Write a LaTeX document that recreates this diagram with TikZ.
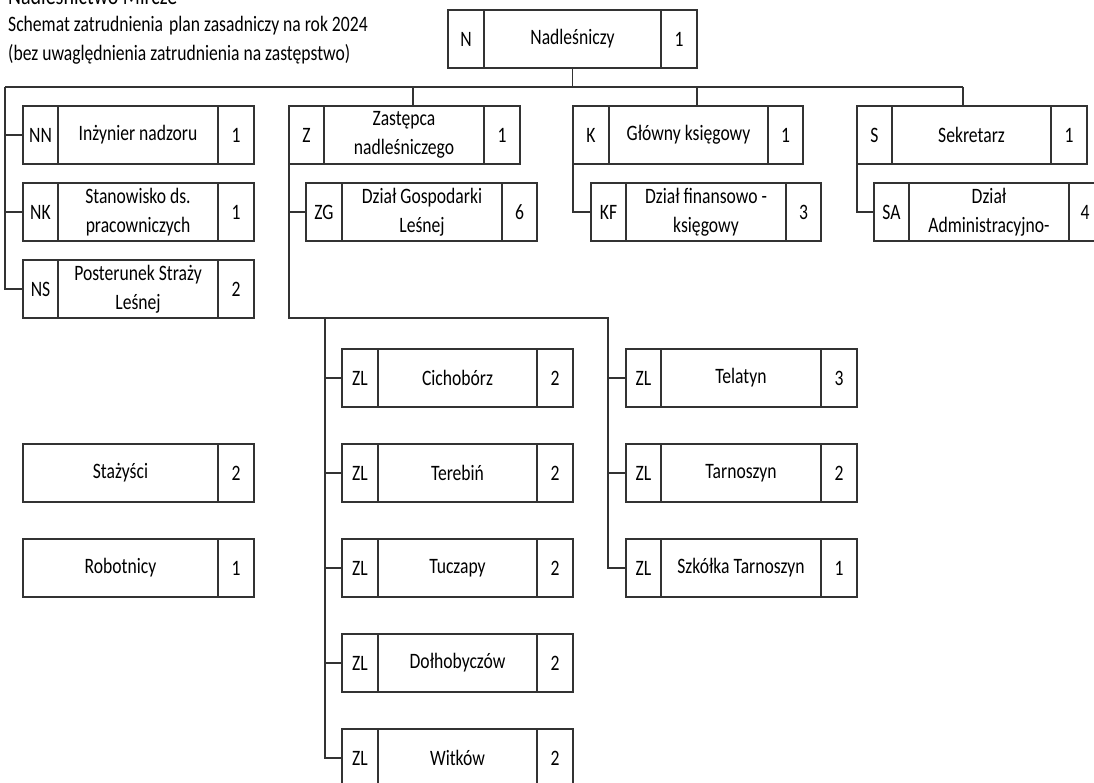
\documentclass[tikz,border=0pt]{standalone}
\usepackage{fontspec}
\setmainfont{Carlito}[FakeStretch=0.8]
\tikzset{
  cell/.style={draw=black!80, line width=1.2pt, inner sep=0pt, outer sep=0pt,
    minimum height=58pt, anchor=north west, align=center,
    font=\fontsize{22}{29}\selectfont, text=black},
  link/.style={draw=black!80, line width=1.2pt},
  title/.style={anchor=base west, inner sep=0pt, text=black},
}
\newcommand\orgbox[9]{%
  \node[cell, minimum width={(#4-#2)*1pt}] (#1c) at (#2,#3) {#7};
  \node[cell, minimum width={(#5-#4)*1pt}] (#1) at (#4,#3) {#8};
  \node[cell, minimum width={(#6-#5)*1pt}] (#1n) at (#5,#3) {#9};
}
\newcommand\twobox[6]{%
  \node[cell, minimum width={(#4-#2)*1pt}] (#1) at (#2,#3) {#5};
  \node[cell, minimum width={(218+36-#4)*1pt}] (#1n) at (#4,#3) {#6};
}
\begin{document}
\begin{tikzpicture}[x=1pt,y=-1pt]
\useasboundingbox (0,0) rectangle (1094,783);
\fill[white] (0,0) rectangle (1094,783);

% titles
\node[title, font=\fontsize{25}{30}\selectfont] (t1) at (8,5) {Nadleśnictwo Mircze};
\node[title, font=\fontsize{22}{29}\selectfont] (t2) at (8,32) {Schemat zatrudnienia};
\node[title, fill=white, font=\fontsize{22}{29}\selectfont] (t2b) at (169,32) {plan zasadniczy na rok 2024};
\node[title, font=\fontsize{22}{29}\selectfont] (t3) at (8,61) {(bez uwaględnienia zatrudnienia na zastępstwo)};

% top
\orgbox{N}{448}{10}{484}{661}{697}{N}{Nadleśniczy}{1}

% left column
\orgbox{NN}{23}{106}{58}{218}{254}{NN}{Inżynier nadzoru}{1}
\orgbox{NK}{23}{183}{58}{218}{254}{NK}{Stanowisko ds.\\pracowniczych}{1}
\orgbox{NS}{23}{260}{58}{218}{254}{NS}{Posterunek Straży\\Leśnej}{2}

% deputy
\orgbox{Z}{289}{106}{324}{484}{520}{Z}{Zastępca\\nadleśniczego}{1}
\orgbox{ZG}{306}{183}{342}{502}{537}{ZG}{Dział Gospodarki\\Leśnej}{6}

% accountant
\orgbox{K}{573}{106}{609}{768}{803}{K}{Główny księgowy}{1}
\orgbox{KF}{591}{183}{626}{786}{821}{KF}{Dział finansowo -\\księgowy}{3}

% secretary
\orgbox{S}{857}{106}{892}{1051}{1087}{S}{Sekretarz}{1}
\orgbox{SA}{874}{183}{909}{1069}{1101}{SA}{Dział\\Administracyjno-}{4}

% forest districts, left
\orgbox{CI}{342}{349}{378}{537}{573}{ZL}{Cichobórz}{2}
\orgbox{TB}{342}{444}{378}{537}{573}{ZL}{Terebiń}{2}
\orgbox{TU}{342}{539}{378}{537}{573}{ZL}{Tuczapy}{2}
\orgbox{DO}{342}{634}{378}{537}{573}{ZL}{Dołhobyczów}{2}
\orgbox{WI}{342}{729}{378}{537}{573}{ZL}{Witków}{2}

% forest districts, right
\orgbox{TE}{626}{349}{661}{821}{857}{ZL}{Telatyn}{3}
\orgbox{TR}{626}{444}{661}{821}{857}{ZL}{Tarnoszyn}{2}
\orgbox{SZ}{626}{539}{661}{821}{857}{ZL}{Szkółka Tarnoszyn}{1}

% others
\twobox{ST}{23}{444}{218}{Stażyści}{2}
\twobox{RO}{23}{539}{218}{Robotnicy}{1}

% connectors
\coordinate (busL) at (5,87);
\coordinate (busR) at (963,87);
\coordinate (dZ) at (413,87);
\coordinate (dK) at (697,87);
\coordinate (hL) at (289,318);
\coordinate (hR) at (608,318);
\coordinate (vL) at (325,318);

\draw[link] (N.south) -- (N.south |- busL);
\draw[link] (busL) -- (busR);
\draw[link] (busL) |- (NSc.west);
\draw[link] (busL |- NNc.west) -- (NNc.west);
\draw[link] (busL |- NKc.west) -- (NKc.west);
\draw[link] (dZ) -- (dZ |- Zc.north);
\draw[link] (dK) -- (dK |- Kc.north);
\draw[link] (busR) -- (busR |- Sc.north);

\draw[link] (Zc.south west) |- (ZGc.west);
\draw[link] (Zc.south west) -- (hL) -- (hR) |- (SZc.west);
\draw[link] (hR |- TEc.west) -- (TEc.west);
\draw[link] (hR |- TRc.west) -- (TRc.west);
\draw[link] (vL) |- (WIc.west);
\draw[link] (vL |- CIc.west) -- (CIc.west);
\draw[link] (vL |- TBc.west) -- (TBc.west);
\draw[link] (vL |- TUc.west) -- (TUc.west);
\draw[link] (vL |- DOc.west) -- (DOc.west);

\draw[link] (Kc.south west) |- (KFc.west);
\draw[link] (Sc.south west) |- (SAc.west);
\end{tikzpicture}
\end{document}
